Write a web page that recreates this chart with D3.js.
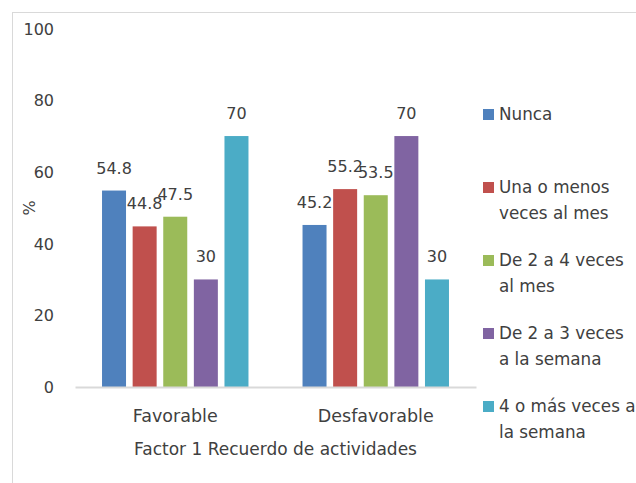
<!DOCTYPE html>
<html><head><meta charset="utf-8">
<script src="https://cdn.jsdelivr.net/npm/d3@7"></script>
<style>body{margin:0;background:#fff}svg{display:block}text{font-family:"DejaVu Sans",sans-serif;fill:#404040}</style>
</head><body>
<script>
const categories = ["Favorable", "Desfavorable"];
const seriesNames = ["Nunca", "Una o menos veces al mes", "De 2 a 4 veces al mes", "De 2 a 3 veces a la semana", "4 o más veces a la semana"];
const legendLines = [["Nunca"], ["Una o menos", "veces al mes"], ["De 2 a 4 veces", "al mes"], ["De 2 a 3 veces", "a la semana"], ["4 o más veces a", "la semana"]];
const nunca = [54.8, 45.2];
const unaOMenos = [44.8, 55.2];
const de2a4Mes = [47.5, 53.5];
const de2a3Semana = [30, 70];
const cuatroOMas = [70, 30];
const yTicks = [0, 20, 40, 60, 80, 100];
const colors = ["#4F81BD", "#C0504D", "#9BBB59", "#8064A2", "#4BACC6"];
const xTitle = "Factor 1 Recuerdo de actividades";
const yTitle = "%";

const seriesValues = [nunca, unaOMenos, de2a4Mes, de2a3Semana, cuatroOMas];
const FONT = "'DejaVu Sans',sans-serif";

const W = 636, H = 483;
const svg = d3.select("body").append("svg").attr("width", W).attr("height", H);
svg.append("rect").attr("x", 12.5).attr("y", 12.5).attr("width", 700).attr("height", 600)
  .attr("fill", "#fff").attr("stroke", "#d9d9d9").attr("stroke-width", 1);

const x0 = d3.scaleBand().domain(categories).range([75, 476]).padding(0);
const x1 = d3.scaleBand().domain(d3.range(seriesNames.length)).range([0, x0.bandwidth()])
  .paddingInner(0.216).paddingOuter(0.883);
const y = d3.scaleLinear().domain([0, 100]).range([387, 28.5]);

// y tick labels
const yAxis = d3.axisLeft(y).tickValues(yTicks).tickSize(0).tickPadding(0);
const gy = svg.append("g").attr("transform", "translate(54,0)").call(yAxis);
gy.select(".domain").remove();
gy.selectAll("text").attr("font-size", 16).attr("font-family", FONT).attr("fill", "#404040").attr("dy", "0.35em");

// bars
const groups = svg.append("g").selectAll("g").data(categories).join("g")
  .attr("transform", d => `translate(${x0(d)},0)`);
groups.selectAll("rect").data((c, ci) => seriesValues.map((vals, si) => ({si, v: vals[ci]})))
  .join("rect")
  .attr("x", d => x1(d.si)).attr("width", x1.bandwidth())
  .attr("y", d => y(d.v)).attr("height", d => y(0) - y(d.v))
  .attr("fill", d => colors[d.si]);
groups.selectAll("text.lbl").data((c, ci) => seriesValues.map((vals, si) => ({si, v: vals[ci]})))
  .join("text").attr("class", "lbl")
  .attr("x", d => x1(d.si) + x1.bandwidth() / 2).attr("y", d => y(d.v) - 17)
  .attr("text-anchor", "middle").attr("font-size", 16).text(d => d.v);

// x axis
const xAxis = d3.axisBottom(x0).tickSize(0).tickPadding(0);
const gx = svg.append("g").attr("transform", "translate(0,387)").call(xAxis);
gx.select(".domain").attr("stroke", "#d9d9d9").attr("stroke-width", 2);
gx.selectAll("text").attr("font-size", 17.5).attr("font-family", FONT).attr("fill", "#404040").attr("dy", null).attr("y", 35);

svg.append("text").attr("x", (x0.range()[0] + x0.range()[1]) / 2).attr("y", 455)
  .attr("text-anchor", "middle").attr("font-size", 17).text(xTitle);
svg.append("text").attr("transform", "translate(35,208) rotate(-90)")
  .attr("text-anchor", "middle").attr("font-size", 16).text(yTitle);

// legend
const lg = svg.append("g").selectAll("g").data(legendLines).join("g")
  .attr("transform", (d, i) => `translate(483,${120 + i * 73})`);
lg.append("rect").attr("x", 0).attr("y", -11).attr("width", 11).attr("height", 11)
  .attr("fill", (d, i) => colors[i]);
lg.each(function(lines) {
  const g = d3.select(this);
  lines.forEach((t, k) => g.append("text").attr("x", 16).attr("y", k * 26).attr("font-size", 16.8).text(t));
});
</script>
</body></html>
